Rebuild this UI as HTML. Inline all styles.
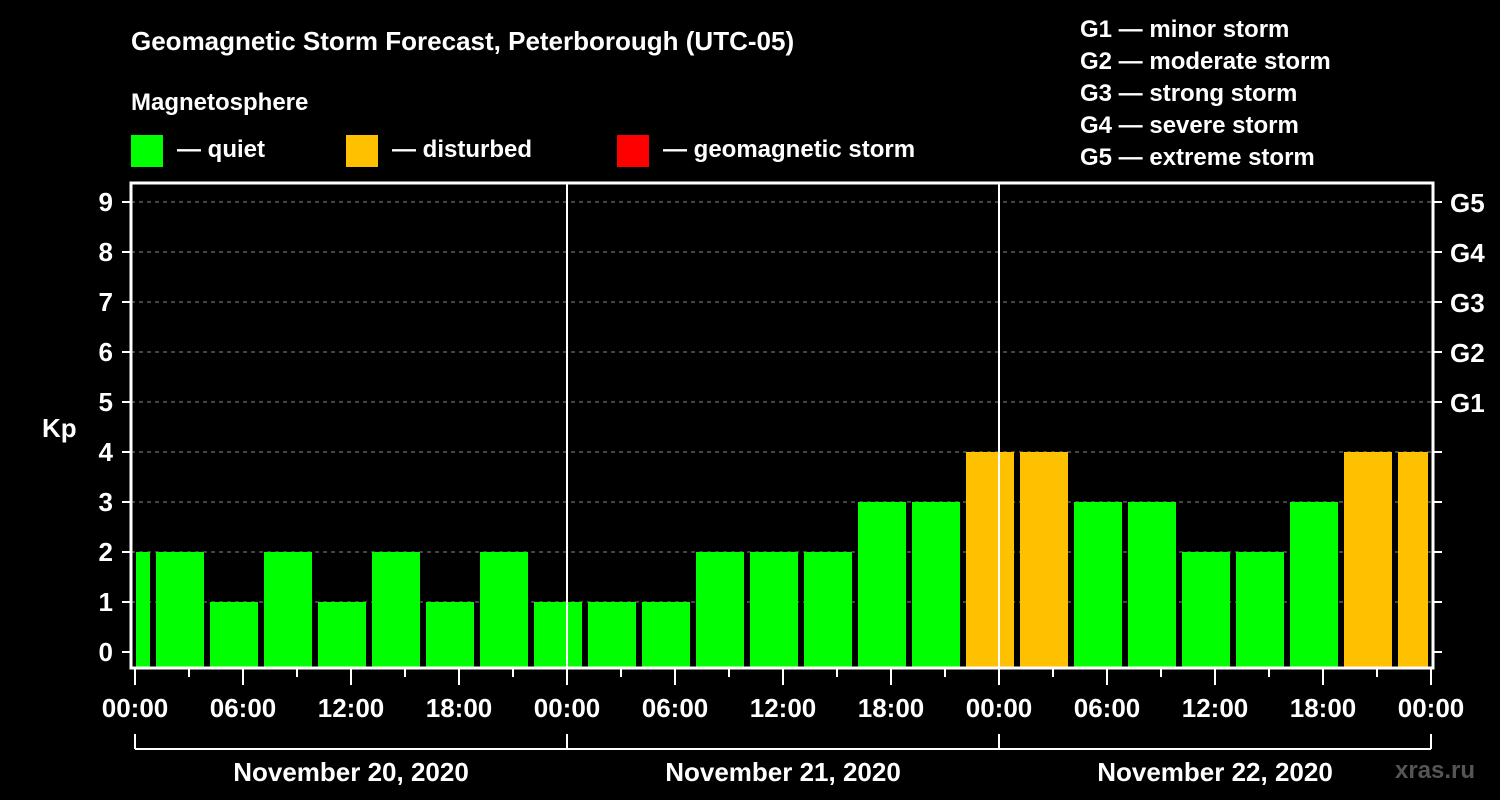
<!DOCTYPE html>
<html><head><meta charset="utf-8"><style>
body{margin:0;background:#000;width:1500px;height:800px;overflow:hidden}
svg{display:block;font-family:"Liberation Sans",Arial,sans-serif;font-weight:bold;fill:#fff}
</style></head><body>
<svg id="c" width="1500" height="800" xmlns="http://www.w3.org/2000/svg">
<text x="131" y="50" font-size="26">Geomagnetic Storm Forecast, Peterborough (UTC-05)</text>
<text x="131" y="110" font-size="24">Magnetosphere</text>
<g><rect x="131" y="135" width="32" height="32" fill="#00ff00"/><text x="177" y="157" font-size="24">— quiet</text></g>
<g><rect x="346" y="135" width="32" height="32" fill="#ffc000"/><text x="392" y="157" font-size="24">— disturbed</text></g>
<g><rect x="617" y="135" width="32" height="32" fill="#ff0000"/><text x="663" y="157" font-size="24">— geomagnetic storm</text></g>
<g font-size="24">
<text x="1080" y="37">G1 — minor storm</text><text x="1080" y="69">G2 — moderate storm</text><text x="1080" y="101">G3 — strong storm</text><text x="1080" y="133">G4 — severe storm</text><text x="1080" y="165">G5 — extreme storm</text></g>
<text x="42" y="437" font-size="26">Kp</text>
<text x="1395" y="778" font-size="24" fill="#555">xras.ru</text>
<g id="grid"></g><g id="bars"></g><g id="axes"></g>
</svg>
<script>
const kpValues=[2,2,1,2,1,2,1,2,1,1,1,2,2,2,3,3,4,4,3,3,2,2,3,4,4];
const gLabels=["G1","G2","G3","G4","G5"];
const dayLabels=["November 20, 2020","November 21, 2020","November 22, 2020"];
const hourLabels=["00:00","06:00","12:00","18:00"];
const NS="http://www.w3.org/2000/svg";
const L=131,R=1433,T=183,B=668,X0=135,PXH=18;
const xs=h=>X0+h*PXH, ys=v=>652-v*50;
function mk(p,tag,a,txt){const e=document.createElementNS(NS,tag);for(const k in a)e.setAttribute(k,a[k]);if(txt!=null)e.textContent=txt;document.getElementById(p).appendChild(e);return e;}
for(let v=1;v<=9;v++){const e=mk("grid","line",{x1:L,x2:R,y1:ys(v),y2:ys(v),stroke:"#888","stroke-dasharray":"4 4","stroke-width":1});

}
kpValues.forEach((v,i)=>{const c=-0.5+3*i;let x1=Math.max(xs(c)-24,L+5),x2=Math.min(xs(c)+24,R-5);
const e=mk("bars","rect",{x:x1,y:ys(v),width:x2-x1,height:B-ys(v),fill:v>=5?"#ff0000":v>=4?"#ffc000":"#00ff00"});

});
const ax=mk("axes","rect",{x:L,y:T,width:R-L,height:B-T,fill:"none",stroke:"#fff","stroke-width":3});


for(let d=1;d<3;d++){const e=mk("axes","line",{x1:xs(24*d),x2:xs(24*d),y1:T,y2:B,stroke:"#fff","stroke-width":2});

}
for(let v=0;v<=9;v++){mk("axes","line",{x1:122,x2:L,y1:ys(v),y2:ys(v),stroke:"#fff","stroke-width":2});
mk("axes","line",{x1:R,x2:1442,y1:ys(v),y2:ys(v),stroke:"#fff","stroke-width":2});
const t=mk("axes","text",{x:113,y:ys(v)+9,"font-size":26,"text-anchor":"end"},String(v));


if(v>=5){const g=mk("axes","text",{x:1450,y:ys(v)+10,"font-size":26},gLabels[v-5]);

}}
for(let h=0;h<=72;h+=3){const maj=h%6==0;mk("axes","line",{x1:xs(h),x2:xs(h),y1:B,y2:maj?685:677,stroke:"#fff","stroke-width":2});
if(maj){const t=mk("axes","text",{x:xs(h),y:717,"font-size":26,"text-anchor":"middle"},hourLabels[(h/6)%4]);

}}
mk("axes","line",{x1:xs(0),x2:xs(72),y1:749,y2:749,stroke:"#fff","stroke-width":2});
for(let d=0;d<=3;d++)mk("axes","line",{x1:xs(24*d),x2:xs(24*d),y1:734,y2:749,stroke:"#fff","stroke-width":2});
dayLabels.forEach((s,d)=>{const t=mk("axes","text",{x:xs(24*d+12),y:781,"font-size":26,"text-anchor":"middle"},s);

});
</script>
</body></html>
